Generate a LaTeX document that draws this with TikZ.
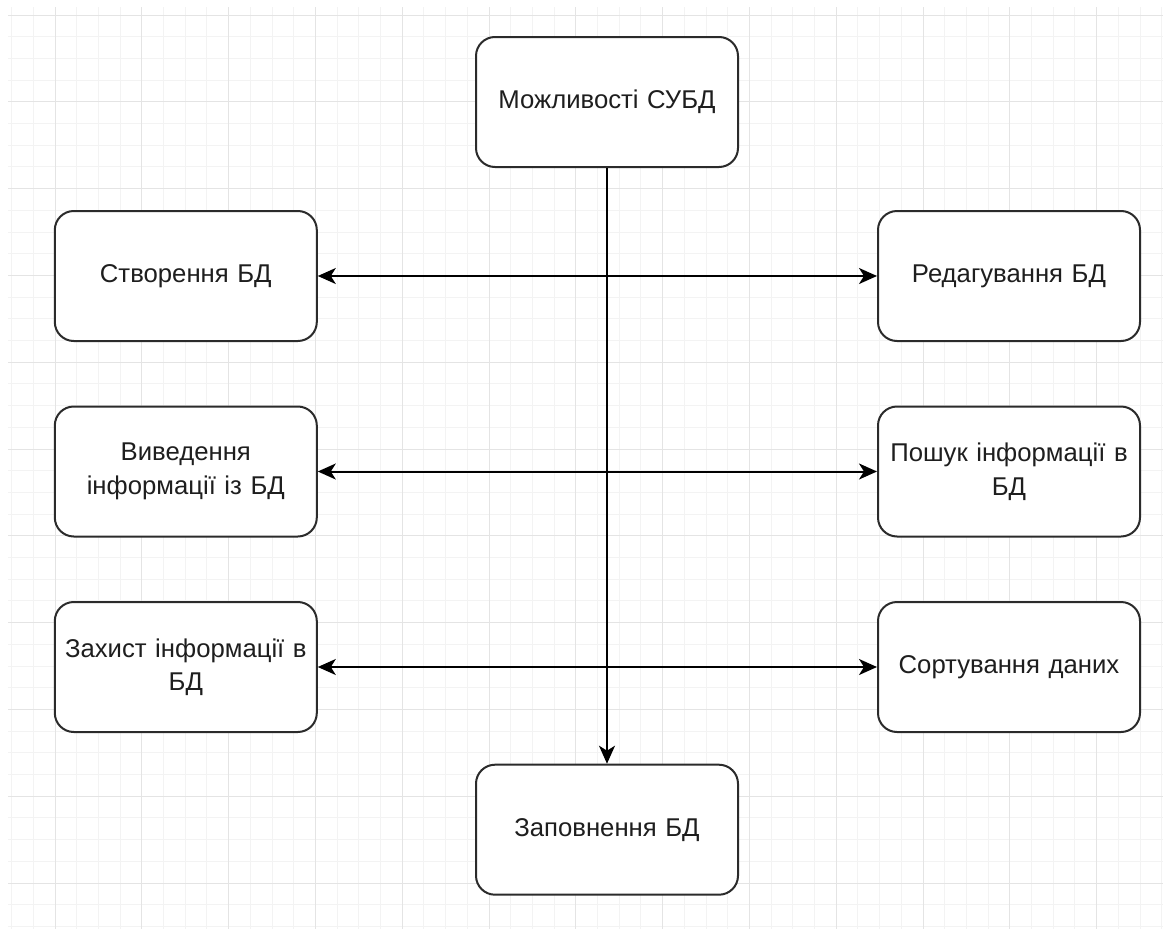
\documentclass[tikz,border=0pt]{standalone}
\usepackage{fontspec}
\setmainfont{Liberation Sans}
\usetikzlibrary{arrows.meta}
\definecolor{gridminor}{HTML}{F3F3F3}
\definecolor{gridmajor}{HTML}{E4E4E4}
\definecolor{boxline}{HTML}{2B2B2B}
\definecolor{txt}{HTML}{1E1E1E}
\tikzset{
  box/.style={draw=boxline, line width=2pt, rounded corners=19pt, fill=white,
    minimum width=261pt, minimum height=130pt, inner sep=4pt, align=center,
    text width=254pt, text=txt, font=\fontsize{25.7}{33.5}\selectfont},
  conn/.style={line width=2pt, draw=black},
  tip/.tip={Stealth[length=18pt, width=16pt, inset=5pt]}
}
\begin{document}
\begin{tikzpicture}[x=1pt, y=-1pt]
\useasboundingbox (0,0) rectangle (1163,929);
\fill[white] (0,0) rectangle (1163,929);
% grid
\foreach \i in {-2,...,51} {
  \pgfmathsetmacro{\gx}{55+21.7*\i}
  \draw[gridminor, line width=1pt] (\gx,7) -- (\gx,929);
}
\foreach \j in {0,...,42} {
  \pgfmathsetmacro{\gy}{15+21.7*\j}
  \draw[gridminor, line width=1pt] (8,\gy) -- (1163,\gy);
}
\foreach \i in {0,...,12} {
  \pgfmathsetmacro{\gx}{55+86.8*\i}
  \draw[gridmajor, line width=1pt] (\gx,7) -- (\gx,929);
}
\foreach \j in {0,...,10} {
  \pgfmathsetmacro{\gy}{15+86.8*\j}
  \draw[gridmajor, line width=1pt] (8,\gy) -- (1163,\gy);
}
% nodes
\node[box] (top) at (607,102) {Можливості СУБД};
\node[box] (l1) at (185.8,276) {Створення БД};
\node[box] (l2) at (185.8,471.5) {Виведення\\інформації із БД};
\node[box] (l3) at (185.8,667) {Захист інформації в\\БД};
\node[box] (r1) at (1009,276) {Редагування БД};
\node[box] (r2) at (1009,471.5) {Пошук інформації в\\БД};
\node[box] (r3) at (1009,667) {Сортування даних};
\node[box] (bot) at (607,829.7) {Заповнення БД};
% connectors
\draw[conn, -{tip}] (top.south) -- (bot.north);
\draw[conn, {tip}-{tip}] (l1.east) -- (r1.west);
\draw[conn, {tip}-{tip}] (l2.east) -- (r2.west);
\draw[conn, {tip}-{tip}] (l3.east) -- (r3.west);
\end{tikzpicture}
\end{document}
